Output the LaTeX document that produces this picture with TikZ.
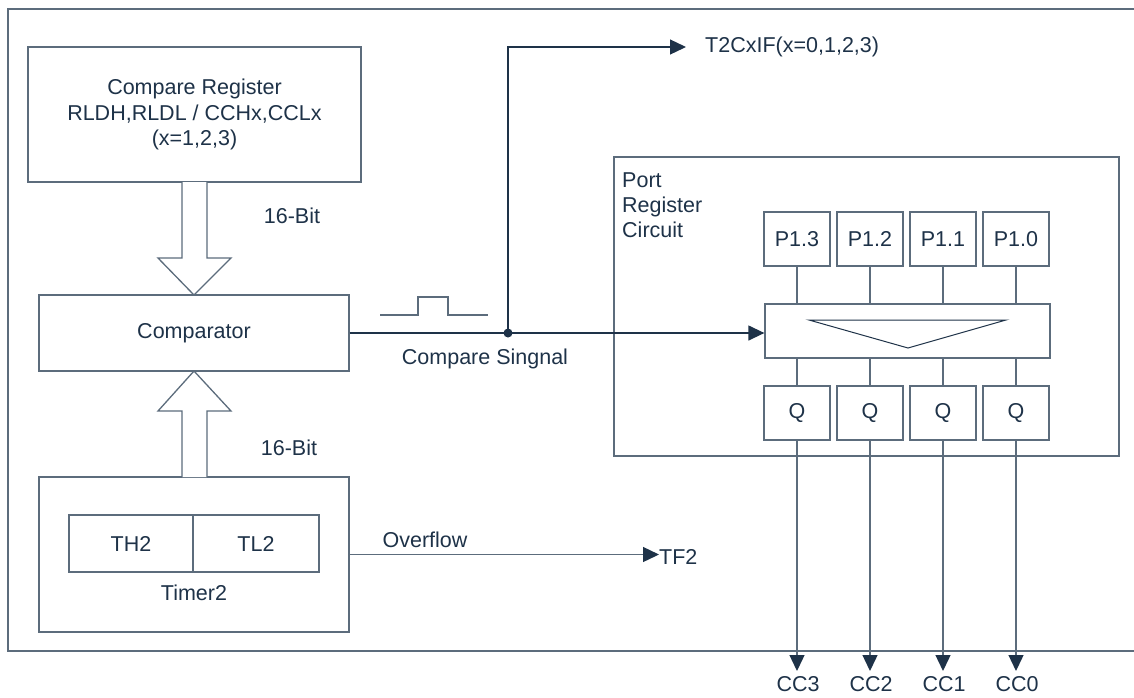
\documentclass[tikz,border=0pt]{standalone}
\usepackage{fontspec}
\setmainfont{Liberation Sans}
\usetikzlibrary{arrows.meta,calc}
\definecolor{boxc}{RGB}{92,108,124}
\definecolor{inkc}{RGB}{30,50,72}
\begin{document}
\begin{tikzpicture}[x=1pt,y=-1pt,
  every node/.style={font=\fontsize{21.5}{25.5}\selectfont, text=inkc, inner sep=0pt},
  blk/.style={draw=boxc, line width=1.3pt, rectangle, fill=white},
  wire/.style={draw=inkc, line width=1.3pt},
  thin/.style={draw=boxc, line width=1.3pt},
  tip/.style={-{Triangle[length=16pt,width=15pt,fill=inkc,color=inkc]}},
  lbl/.style={align=left, anchor=west}
]
\useasboundingbox (0,0) rectangle (1134,697);
% outer frame (open on the right)
\draw[thin] (1134,9) -- (8,9) -- (8,651) -- (1134,651);

% blocks
\node[blk, minimum width=333pt, minimum height=135pt, align=center] (reg) at (194.5,114.5)
  {Compare Register\\RLDH,RLDL / CCHx,CCLx\\(x=1,2,3)};
\node[blk, minimum width=310pt, minimum height=76pt] (cmp) at (194,333) {Comparator};
\node[blk, minimum width=310pt, minimum height=155pt] (tmr) at (194,554.5) {};
\node[blk, minimum width=124pt, minimum height=57pt] (th) at (131,543.5) {TH2};
\node[blk, minimum width=126pt, minimum height=57pt] (tl) at (256,543.5) {TL2};
\node (tmrl) at (194,593) {Timer2};

% wide arrows
\draw[thin, fill=white] (182,182) -- (182,258) -- (158,258) -- (194,295) -- (231,258) -- (207,258) -- (207,182);
\draw[thin, fill=white] (182,477) -- (182,411) -- (158,411) -- (194,371) -- (231,411) -- (207,411) -- (207,477);
\node (b1) at (292,216) {16-Bit};
\node (b2) at (289,448) {16-Bit};

% port register circuit
\node[blk, minimum width=505pt, minimum height=299pt] (port) at (866.5,306.5) {};
\node[lbl, align=left, anchor=north west] (portl) at (622,172) {Port\\Register\\Circuit};
\foreach \n/\x/\t in {3/797/P1.3, 2/870/P1.2, 1/943/P1.1, 0/1016/P1.0}{
  \node[blk, minimum width=66pt, minimum height=54pt] (p\n) at (\x,239) {\t};
  \node[blk, minimum width=66pt, minimum height=54pt] (q\n) at (\x,413) {Q};
}
\node[blk, minimum width=285pt, minimum height=54pt] (latch) at (907.5,331) {};
\draw[draw=inkc, line width=1pt] (809,320) -- (1006,320) -- (908,348) -- cycle;
\foreach \n/\x in {3/797, 2/870, 1/943, 0/1016}{
  \draw[thin] (p\n.south) -- (\x,304);
  \draw[thin] (\x,358) -- (q\n.north);
  \coordinate (o\n) at (\x,671);
  \draw[thin, tip] (q\n.south) -- (o\n);
  \node (cc\n) at (\x+1,684) {CC\n};
}

% compare signal
\draw[thin] (380,315) -- (418,315) -- (418,297) -- (448,297) -- (448,315) -- (488,315);
\coordinate (dot) at (508,333);
\draw[wire, tip] (cmp.east) -- (cmp.east -| latch.west);
\fill[inkc] (dot) circle (4.5pt);
\node (cs) at (485,359) {Compare Singnal};
\coordinate (up) at (508,47);
\node[anchor=west] (flag) at (705,47) {T2CxIF(x=0,1,2,3)};
\coordinate (flagin) at (686,47);
\draw[wire, tip] (dot) -- (up) -- (flagin);

% overflow
\node[anchor=west] (tf) at (659,557) {TF2};
\draw[thin, tip] (tmr.east) -- (tmr.east -| tf.west);
\node (ov) at (425,540) {Overflow};
\end{tikzpicture}
\end{document}
